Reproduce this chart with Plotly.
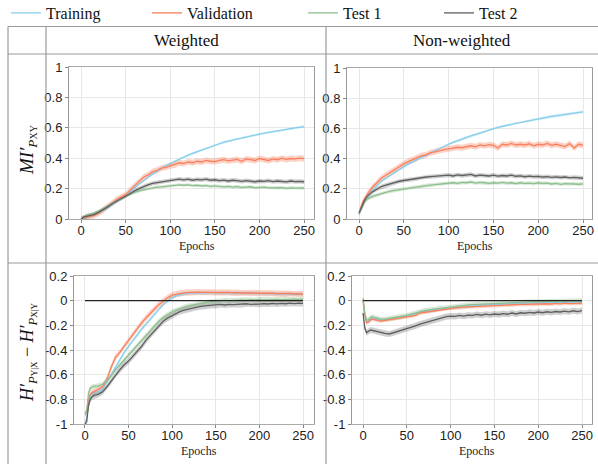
import plotly.graph_objects as go

# ---------------- data ----------------
EPOCHS = [0, 2, 4, 6, 8, 10, 15, 20, 25, 30, 35, 40, 45, 50, 55, 60, 65, 70, 75, 80,
          85, 90, 95, 100, 105, 110, 115, 120, 125, 130, 135, 140, 145, 150, 155, 160,
          165, 170, 175, 180, 185, 190, 195, 200, 205, 210, 215, 220, 225, 230, 235,
          240, 245, 250]

SERIES = ["Training", "Validation", "Test 1", "Test 2"]
COLUMNS = ["Weighted", "Non-weighted"]
X_TICKS = [0, 50, 100, 150, 200, 250]
MI_TICKS = [0, 0.2, 0.4, 0.6, 0.8, 1]
MI_TICK_TEXT = ["0", "0.2", "0.4", "0.6", "0.8", "1"]
H_TICKS = [-1, -0.8, -0.6, -0.4, -0.2, 0, 0.2]
H_TICK_TEXT = ["-1", "-0.8", "-0.6", "-0.4", "-0.2", "0", "0.2"]

# Weighted, MI'
W_MI_TRAIN = [0.0, 0.005, 0.01, 0.013, 0.016, 0.02, 0.03, 0.04, 0.055, 0.075, 0.095, 0.115,
              0.135, 0.155, 0.18, 0.205, 0.23, 0.255, 0.275, 0.295, 0.315, 0.335, 0.35, 0.365,
              0.38, 0.395, 0.41, 0.42, 0.432, 0.443, 0.455, 0.465, 0.475, 0.485, 0.495, 0.505,
              0.512, 0.52, 0.527, 0.535, 0.54, 0.547, 0.552, 0.56, 0.565, 0.57, 0.576, 0.58,
              0.586, 0.59, 0.595, 0.6, 0.604, 0.608]
W_MI_VAL = [0.0, 0.005, 0.01, 0.012, 0.015, 0.018, 0.025, 0.04, 0.06, 0.08, 0.105, 0.13,
            0.145, 0.16, 0.19, 0.22, 0.25, 0.275, 0.29, 0.31, 0.32, 0.335, 0.34, 0.35, 0.355,
            0.37, 0.365, 0.375, 0.37, 0.38, 0.375, 0.385, 0.38, 0.378, 0.385, 0.39, 0.382,
            0.388, 0.392, 0.38, 0.395, 0.39, 0.385, 0.398, 0.39, 0.385, 0.395, 0.39, 0.4,
            0.392, 0.398, 0.395, 0.4, 0.397]
W_MI_T1 = [0.0, 0.01, 0.02, 0.025, 0.028, 0.03, 0.04, 0.05, 0.065, 0.085, 0.105, 0.12, 0.135,
           0.15, 0.165, 0.175, 0.185, 0.192, 0.2, 0.205, 0.21, 0.212, 0.215, 0.218, 0.222,
           0.225, 0.222, 0.225, 0.22, 0.222, 0.218, 0.22, 0.215, 0.218, 0.215, 0.212, 0.215,
           0.21, 0.213, 0.208, 0.21, 0.212, 0.205, 0.208, 0.21, 0.205, 0.207, 0.204, 0.206,
           0.202, 0.205, 0.203, 0.206, 0.204]
W_MI_T2 = [0.0, 0.008, 0.015, 0.018, 0.02, 0.022, 0.03, 0.045, 0.06, 0.08, 0.1, 0.12, 0.135,
           0.15, 0.17, 0.185, 0.2, 0.215, 0.225, 0.235, 0.24, 0.245, 0.25, 0.255, 0.26, 0.262,
           0.258, 0.262, 0.255, 0.26, 0.258, 0.262, 0.255, 0.258, 0.252, 0.256, 0.25, 0.255,
           0.252, 0.248, 0.253, 0.25, 0.245, 0.25, 0.248, 0.252, 0.246, 0.25, 0.247, 0.244,
           0.25, 0.246, 0.248, 0.245]

# Non-weighted, MI'
N_MI_TRAIN = [0.03, 0.06, 0.09, 0.11, 0.13, 0.15, 0.19, 0.22, 0.25, 0.27, 0.29, 0.31, 0.33,
              0.35, 0.365, 0.38, 0.395, 0.41, 0.425, 0.44, 0.455, 0.47, 0.485, 0.495, 0.508,
              0.52, 0.53, 0.54, 0.55, 0.56, 0.57, 0.58, 0.59, 0.6, 0.607, 0.614, 0.62, 0.628,
              0.635, 0.642, 0.648, 0.655, 0.66, 0.665, 0.67, 0.675, 0.68, 0.684, 0.688, 0.693,
              0.697, 0.7, 0.705, 0.71]
N_MI_VAL = [0.04, 0.08, 0.11, 0.13, 0.15, 0.17, 0.21, 0.24, 0.27, 0.29, 0.31, 0.33, 0.35,
            0.365, 0.38, 0.395, 0.405, 0.42, 0.425, 0.44, 0.445, 0.455, 0.46, 0.465, 0.47,
            0.475, 0.472, 0.48, 0.485, 0.478, 0.49, 0.485, 0.492, 0.488, 0.47, 0.495, 0.49,
            0.5, 0.49, 0.495, 0.49, 0.498, 0.485, 0.495, 0.49, 0.5, 0.488, 0.495, 0.49, 0.48,
            0.5, 0.47, 0.495, 0.488]
N_MI_T1 = [0.03, 0.06, 0.09, 0.11, 0.125, 0.135, 0.15, 0.16, 0.17, 0.178, 0.185, 0.19, 0.195,
           0.2, 0.205, 0.21, 0.215, 0.218, 0.222, 0.225, 0.228, 0.23, 0.235, 0.238, 0.24,
           0.236, 0.242, 0.24, 0.245, 0.238, 0.242, 0.24, 0.236, 0.24, 0.238, 0.242, 0.237,
           0.24, 0.235, 0.24, 0.236, 0.238, 0.234, 0.24, 0.236, 0.238, 0.232, 0.236, 0.23,
           0.234, 0.232, 0.235, 0.23, 0.232]
N_MI_T2 = [0.04, 0.07, 0.1, 0.12, 0.14, 0.155, 0.18, 0.2, 0.215, 0.225, 0.235, 0.24, 0.25,
           0.255, 0.26, 0.265, 0.268, 0.275, 0.278, 0.28, 0.283, 0.285, 0.288, 0.29, 0.285,
           0.292, 0.288, 0.29, 0.295, 0.285, 0.29, 0.288, 0.285, 0.29, 0.284, 0.288, 0.285,
           0.29, 0.283, 0.285, 0.28, 0.284, 0.28, 0.282, 0.278, 0.28, 0.276, 0.279, 0.275,
           0.278, 0.273, 0.276, 0.272, 0.27]

# Weighted, H'(Y|X) - H'(X|Y)
W_H_TRAIN = [-1.0, -0.95, -0.85, -0.78, -0.75, -0.745, -0.74, -0.72, -0.66, -0.6, -0.53,
             -0.47, -0.42, -0.37, -0.32, -0.28, -0.23, -0.19, -0.15, -0.11, -0.065, -0.03,
             0.0, 0.025, 0.042, 0.052, 0.058, 0.062, 0.064, 0.065, 0.066, 0.065, 0.066, 0.065,
             0.064, 0.064, 0.063, 0.062, 0.062, 0.061, 0.06, 0.06, 0.059, 0.058, 0.058, 0.057,
             0.056, 0.056, 0.055, 0.055, 0.054, 0.054, 0.053, 0.053]
W_H_VAL = [-0.92, -0.9, -0.8, -0.76, -0.745, -0.74, -0.72, -0.7, -0.64, -0.54, -0.46, -0.42,
           -0.37, -0.32, -0.27, -0.22, -0.18, -0.14, -0.1, -0.065, -0.03, 0.0, 0.025, 0.045,
           0.055, 0.06, 0.065, 0.068, 0.066, 0.07, 0.068, 0.07, 0.068, 0.066, 0.068, 0.065,
           0.067, 0.063, 0.066, 0.062, 0.064, 0.06, 0.063, 0.06, 0.062, 0.058, 0.06, 0.057,
           0.059, 0.055, 0.058, 0.054, 0.056, 0.054]
W_H_T1 = [-0.92, -0.9, -0.75, -0.71, -0.7, -0.695, -0.69, -0.68, -0.65, -0.61, -0.56, -0.52,
          -0.48, -0.44, -0.4, -0.36, -0.32, -0.28, -0.24, -0.2, -0.165, -0.135, -0.11, -0.09,
          -0.075, -0.06, -0.05, -0.04, -0.032, -0.025, -0.018, -0.012, -0.008, -0.004, -0.003,
          0.002, 0.001, 0.005, 0.003, 0.007, 0.005, 0.009, 0.006, 0.01, 0.007, 0.01, 0.008,
          0.011, 0.009, 0.012, 0.01, 0.012, 0.011, 0.012]
W_H_T2 = [-1.0, -0.98, -0.85, -0.8, -0.78, -0.77, -0.76, -0.74, -0.7, -0.65, -0.6, -0.56,
          -0.52, -0.49, -0.45, -0.41, -0.37, -0.32, -0.28, -0.24, -0.2, -0.165, -0.14, -0.12,
          -0.1, -0.085, -0.075, -0.065, -0.058, -0.05, -0.045, -0.042, -0.036, -0.038, -0.03,
          -0.035, -0.03, -0.032, -0.028, -0.03, -0.025, -0.03, -0.026, -0.028, -0.024,
          -0.027, -0.022, -0.026, -0.022, -0.025, -0.02, -0.024, -0.02, -0.022]

# Non-weighted, H'(Y|X) - H'(X|Y)
N_H_TRAIN = [0.01, -0.11, -0.17, -0.165, -0.15, -0.14, -0.148, -0.158, -0.155, -0.15,
             -0.145, -0.14, -0.135, -0.125, -0.118, -0.11, -0.092, -0.088, -0.082, -0.075,
             -0.07, -0.065, -0.06, -0.055, -0.05, -0.048, -0.045, -0.042, -0.04, -0.037,
             -0.035, -0.033, -0.03, -0.03, -0.028, -0.026, -0.025, -0.024, -0.022, -0.021,
             -0.02, -0.019, -0.019, -0.017, -0.017, -0.015, -0.016, -0.013, -0.015, -0.012,
             -0.013, -0.011, -0.012, -0.01]
N_H_VAL = [0.0, -0.12, -0.18, -0.175, -0.16, -0.15, -0.155, -0.165, -0.16, -0.155, -0.15,
           -0.145, -0.14, -0.13, -0.125, -0.12, -0.1, -0.095, -0.09, -0.08, -0.078, -0.07,
           -0.065, -0.06, -0.058, -0.055, -0.052, -0.05, -0.048, -0.045, -0.045, -0.042,
           -0.04, -0.04, -0.038, -0.036, -0.035, -0.033, -0.032, -0.03, -0.03, -0.028, -0.03,
           -0.026, -0.028, -0.025, -0.027, -0.022, -0.026, -0.02, -0.024, -0.02, -0.022,
           -0.02]
N_H_T1 = [0.02, -0.1, -0.16, -0.155, -0.14, -0.13, -0.14, -0.15, -0.15, -0.145, -0.14,
          -0.135, -0.13, -0.12, -0.11, -0.1, -0.085, -0.08, -0.075, -0.07, -0.065, -0.06,
          -0.055, -0.05, -0.045, -0.042, -0.04, -0.035, -0.032, -0.03, -0.028, -0.025,
          -0.022, -0.02, -0.02, -0.018, -0.015, -0.015, -0.012, -0.012, -0.01, -0.01, -0.008,
          -0.008, -0.006, -0.006, -0.005, -0.004, -0.004, -0.003, -0.003, -0.002, -0.002,
          -0.001]
N_H_T2 = [-0.1, -0.22, -0.26, -0.25, -0.24, -0.24, -0.25, -0.255, -0.265, -0.27, -0.26,
          -0.25, -0.24, -0.225, -0.215, -0.205, -0.19, -0.18, -0.165, -0.155, -0.145, -0.14,
          -0.13, -0.125, -0.128, -0.12, -0.125, -0.118, -0.12, -0.112, -0.118, -0.11, -0.115,
          -0.108, -0.112, -0.105, -0.11, -0.1, -0.108, -0.098, -0.102, -0.095, -0.1, -0.092,
          -0.098, -0.09, -0.095, -0.088, -0.092, -0.085, -0.09, -0.082, -0.088, -0.08]

# half-width of shaded spread for each series (Training, Validation, Test 1, Test 2)
W_MI_SPREAD = [0.008, 0.02, 0.01, 0.014]
N_MI_SPREAD = [0.008, 0.02, 0.012, 0.014]
W_H_SPREAD = [0.015, 0.025, 0.02, 0.025]
N_H_SPREAD = [0.01, 0.015, 0.02, 0.025]

# ---------------- styling ----------------
COLORS = ["#87CEEB", "#FA7F5C", "#8FBF8F", "#5F5F5F"]
FILLS = ["rgba(135,206,235,0.35)", "rgba(250,127,92,0.35)", "rgba(143,191,143,0.35)",
         "rgba(95,95,95,0.3)"]
SERIF = "Liberation Serif, Times New Roman, serif"
SANS = "Liberation Sans, Arial, sans-serif"

W, H = 598, 464
LEGEND_X_PX = [6, 147, 303, 439]
LEGEND_IDS = ["legend", "legend2", "legend3", "legend4"]


def px_x(v):
    return v / W


def px_y(v):
    return 1 - v / H


panels = [
    ("x", "y", [W_MI_TRAIN, W_MI_VAL, W_MI_T1, W_MI_T2], W_MI_SPREAD, (69, 314), (67, 219),
     [-13.5, 261], [0, 1], True),
    ("x2", "y2", [N_MI_TRAIN, N_MI_VAL, N_MI_T1, N_MI_T2], N_MI_SPREAD, (347, 592), (68, 219),
     [-13.4, 260], [0, 1], True),
    ("x3", "y3", [W_H_TRAIN, W_H_VAL, W_H_T1, W_H_T2], W_H_SPREAD, (74, 314), (276, 424),
     [-12.6, 262.6], [-1, 0.2], False),
    ("x4", "y4", [N_H_TRAIN, N_H_VAL, N_H_T1, N_H_T2], N_H_SPREAD, (352, 592), (276, 424),
     [-12.6, 261.4], [-1, 0.2], False),
]

fig = go.Figure()
layout = {}
shapes = []
annotations = []

for pi, (xa, ya, data, spreads, xd, yd, xr, yr, is_mi) in enumerate(panels):
    for si, (name, vals) in enumerate(zip(SERIES, data)):
        s = spreads[si]
        upper = [v + s for v in vals]
        lower = [v - s for v in vals]
        fig.add_trace(go.Scatter(
            x=EPOCHS + EPOCHS[::-1], y=upper + lower[::-1], xaxis=xa, yaxis=ya,
            fill="toself", fillcolor=FILLS[si], line=dict(width=0), mode="lines",
            hoverinfo="skip", showlegend=False))
    for si, (name, vals) in enumerate(zip(SERIES, data)):
        fig.add_trace(go.Scatter(
            x=EPOCHS, y=vals, xaxis=xa, yaxis=ya, mode="lines", name=name,
            line=dict(color=COLORS[si], width=1.3), legendgroup=name,
            legend=LEGEND_IDS[si], showlegend=(pi == 0)))
    if not is_mi:
        shapes.append(dict(type="line", xref=xa, yref=ya, x0=0, x1=250, y0=0, y1=0,
                           line=dict(color="#222222", width=1.2), layer="above"))
    suffix = xa[1:]
    layout["xaxis" + suffix] = dict(
        domain=[px_x(xd[0]), px_x(xd[1])], range=xr, anchor=ya,
        tickvals=X_TICKS, ticks="outside", ticklen=3, tickcolor="#888",
        ticklabelstandoff=-4,
        showgrid=True, gridcolor="#e8e8e8", gridwidth=1, zeroline=False,
        showline=True, linecolor="#aaaaaa", linewidth=1, mirror=True,
        tickfont=dict(family=SANS, size=13, color="#222"))
    layout["yaxis" + suffix] = dict(
        domain=[px_y(yd[1]), px_y(yd[0])], range=yr, anchor=xa,
        tickvals=MI_TICKS if is_mi else H_TICKS,
        ticktext=MI_TICK_TEXT if is_mi else H_TICK_TEXT,
        ticks="outside", ticklen=3, tickcolor="#888",
        showgrid=True, gridcolor="#e8e8e8", gridwidth=1, zeroline=False,
        showline=True, linecolor="#999999", linewidth=1, mirror=True,
        tickfont=dict(family=SANS, size=13, color="#222"))
    annotations.append(dict(text="Epochs", xref="paper", yref="paper",
                            x=px_x((xd[0] + xd[1]) / 2 + 5), y=px_y(yd[1] + 27),
                            showarrow=False, xanchor="center", yanchor="middle",
                            font=dict(family=SERIF, size=12, color="#222")))

# table grid lines
GRID = "#999999"
for yy in (26.5, 54, 263):
    shapes.append(dict(type="line", xref="paper", yref="paper", x0=px_x(8), x1=1,
                       y0=px_y(yy), y1=px_y(yy), line=dict(color=GRID, width=1.2)))
for xx in (8, 46, 326):
    shapes.append(dict(type="line", xref="paper", yref="paper", x0=px_x(xx), x1=px_x(xx),
                       y0=px_y(26.5), y1=0, line=dict(color=GRID, width=1.2)))

# column headers
for label, cx in zip(COLUMNS, (186, 462)):
    annotations.append(dict(text=label, xref="paper", yref="paper", x=px_x(cx), y=px_y(40),
                            xanchor="center", yanchor="middle", showarrow=False,
                            font=dict(family=SERIF, size=17, color="#111")))

# row (y axis) titles
annotations.append(dict(text="<i>MI′</i><sub><i>P</i><span style='font-size:10px'>XY</span></sub>",
                        xref="paper", yref="paper", x=px_x(28), y=px_y(150), textangle=-90,
                        xanchor="center", yanchor="middle",
                        showarrow=False, font=dict(family=SERIF, size=19, color="#111")))
annotations.append(dict(
    text="<i>H′</i><sub><i>P</i><span style='font-size:9px'>Y|X</span></sub> − "
         "<i>H′</i><sub><i>P</i><span style='font-size:9px'>X|Y</span></sub>",
    xref="paper", yref="paper", x=px_x(28), y=px_y(352), textangle=-90,
    xanchor="center", yanchor="middle",
    showarrow=False, font=dict(family=SERIF, size=18, color="#111")))

legends = {}
for li, lid in enumerate(LEGEND_IDS):
    legends[lid] = dict(orientation="h", x=px_x(LEGEND_X_PX[li]), y=px_y(13),
                        xanchor="left", yanchor="middle",
                        font=dict(family=SERIF, size=16, color="#111"),
                        bgcolor="rgba(0,0,0,0)", borderwidth=0)

fig.update_layout(
    width=W, height=H, margin=dict(l=0, r=0, t=0, b=0, autoexpand=False),
    paper_bgcolor="white", plot_bgcolor="white",
    shapes=shapes, annotations=annotations,
    **legends, **layout)

fig.write_html("out.html")
